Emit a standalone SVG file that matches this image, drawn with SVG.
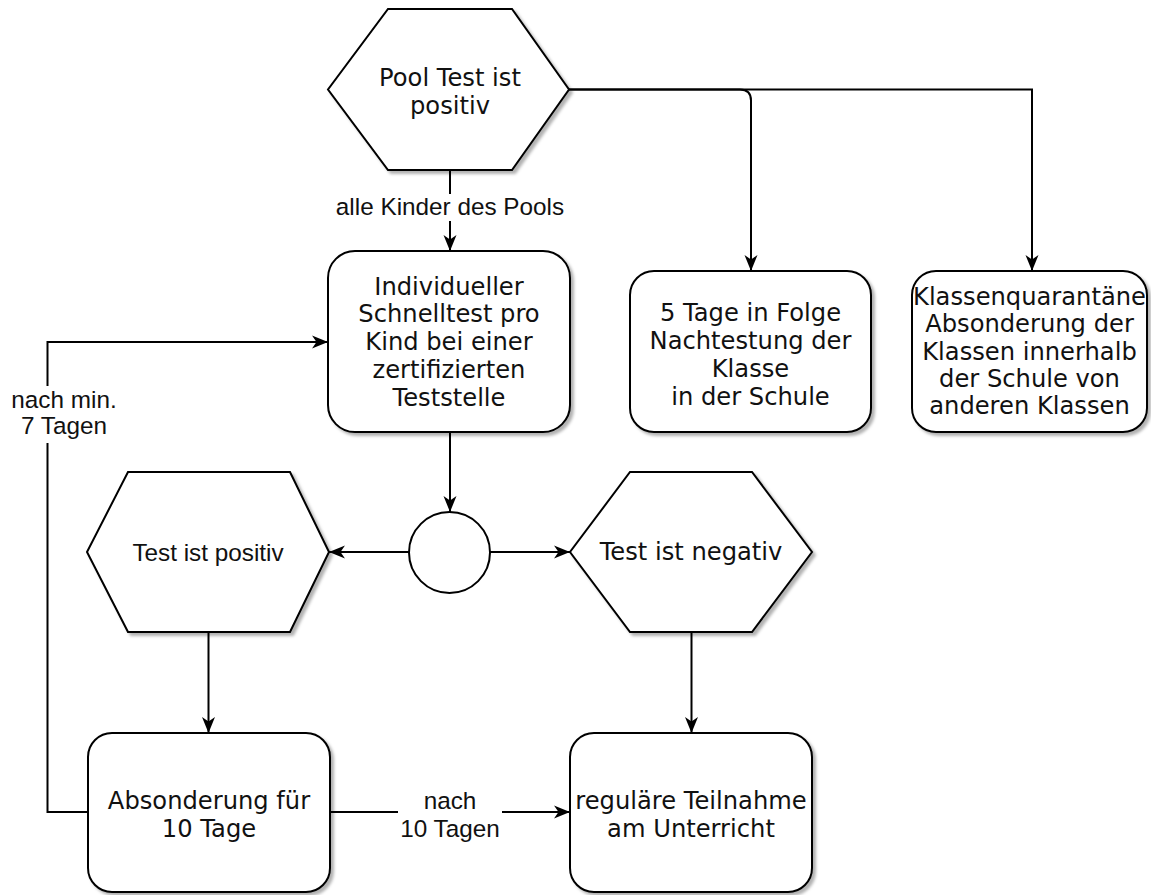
<svg xmlns="http://www.w3.org/2000/svg" width="1151" height="895" viewBox="0 0 1151 895">
<style>
.shape{fill:#fff;stroke:#000;stroke-width:2;filter:url(#sh)}
.plain{fill:#fff;stroke:#000;stroke-width:2}
.edge{fill:none;stroke:#000;stroke-width:2}
.v{font-family:"DejaVu Sans",Verdana,sans-serif;font-size:24.2px;fill:#111;text-anchor:middle}
.h{font-family:"Liberation Sans",Arial,Helvetica,sans-serif;font-size:24.3px;fill:#111;text-anchor:middle}
.bg{fill:#fff;stroke:none}
</style>
<defs>
<filter id="sh" x="-10%" y="-10%" width="130%" height="130%">
<feDropShadow dx="3" dy="3" stdDeviation="1.5" flood-color="#000" flood-opacity="0.3"/>
</filter>
<marker id="arr" markerUnits="userSpaceOnUse" markerWidth="18" markerHeight="16" viewBox="0 0 18 16" refX="16" refY="8" orient="auto">
<path d="M0,1.5 L16,8 L0,14.5 L4.5,8 Z" fill="#000"/>
</marker>
</defs>
<rect width="1151" height="895" fill="#fff"/>

<g id="connectors">
<path class="edge" d="M450,170 L450,251" marker-end="url(#arr)"/>
<path class="edge" d="M569,89.5 L740,89.5 Q751,89.5 751,100.5 L751,271" marker-end="url(#arr)"/>
<path class="edge" d="M569,89.5 L1032,89.5 L1032,271" marker-end="url(#arr)"/>
<path class="edge" d="M450,432 L450,512" marker-end="url(#arr)"/>
<path class="edge" d="M409,552 L329,552" marker-end="url(#arr)"/>
<path class="edge" d="M490,552 L570,552" marker-end="url(#arr)"/>
<path class="edge" d="M208.5,632 L208.5,733" marker-end="url(#arr)"/>
<path class="edge" d="M691.5,632 L691.5,733" marker-end="url(#arr)"/>
<path class="edge" d="M330,812 L570,812" marker-end="url(#arr)"/>
<path class="edge" d="M88,812 L47.5,812 L47.5,342 L328,342" marker-end="url(#arr)"/>
<g id="edge-labels">
<rect class="bg" x="334" y="194" width="234" height="27"/>
<text class="h" x="450" y="215">alle Kinder des Pools</text>
<rect class="bg" x="8" y="386" width="114" height="57"/>
<text class="h" x="64" y="408">nach min.</text>
<text class="h" x="64" y="434">7 Tagen</text>
<rect class="bg" x="398" y="788" width="104" height="54"/>
<text class="h" x="450" y="809">nach</text>
<text class="h" x="450" y="837">10 Tagen</text>
</g>
</g>

<g id="pool-test">
<polygon class="shape" points="388,9 512,9 569,89.5 512,170 388,170 328,89.5"/>
<text class="v" x="450" y="86">Pool Test ist</text>
<text class="v" x="450" y="114">positiv</text>
</g>

<g id="schnelltest">
<rect class="shape" x="328" y="251" width="242" height="181" rx="27" ry="27"/>
<text class="v" x="449" y="294.5">Individueller</text>
<text class="v" x="449" y="322.3">Schnelltest pro</text>
<text class="v" x="449" y="350">Kind bei einer</text>
<text class="v" x="449" y="377.8">zertifizierten</text>
<text class="v" x="449" y="405.6">Teststelle</text>
</g>

<g id="nachtestung">
<rect class="shape" x="630" y="271" width="241" height="161" rx="24" ry="24"/>
<text class="v" x="750.5" y="321">5 Tage in Folge</text>
<text class="v" x="750.5" y="349">Nachtestung der</text>
<text class="v" x="750.5" y="377">Klasse</text>
<text class="v" x="750.5" y="404.5">in der Schule</text>
</g>

<g id="klassenquarantaene">
<rect class="shape" x="912" y="271" width="235" height="161" rx="24" ry="24"/>
<text class="v" x="1029.5" y="305">Klassenquarantäne</text>
<text class="v" x="1029.5" y="332">Absonderung der</text>
<text class="v" x="1029.5" y="359.5">Klassen innerhalb</text>
<text class="v" x="1029.5" y="387">der Schule von</text>
<text class="v" x="1029.5" y="414">anderen Klassen</text>
</g>

<g id="decision">
<circle class="plain" cx="449.5" cy="552.5" r="40.5"/>
</g>

<g id="test-positiv">
<polygon class="shape" points="128,472 290,472 329,552 290,632 128,632 87,552"/>
<text class="h" x="208" y="561">Test ist positiv</text>
</g>

<g id="test-negativ">
<polygon class="shape" points="630,472 752,472 812,552 752,632 630,632 570,552"/>
<text class="v" x="691" y="560">Test ist negativ</text>
</g>

<g id="absonderung">
<rect class="shape" x="88" y="733" width="242" height="159" rx="24" ry="24"/>
<text class="v" x="209" y="809">Absonderung für</text>
<text class="v" x="209" y="837">10 Tage</text>
</g>

<g id="teilnahme">
<rect class="shape" x="570" y="733" width="242" height="159" rx="24" ry="24"/>
<text class="v" x="691" y="809">reguläre Teilnahme</text>
<text class="v" x="691" y="837">am Unterricht</text>
</g>
</svg>
